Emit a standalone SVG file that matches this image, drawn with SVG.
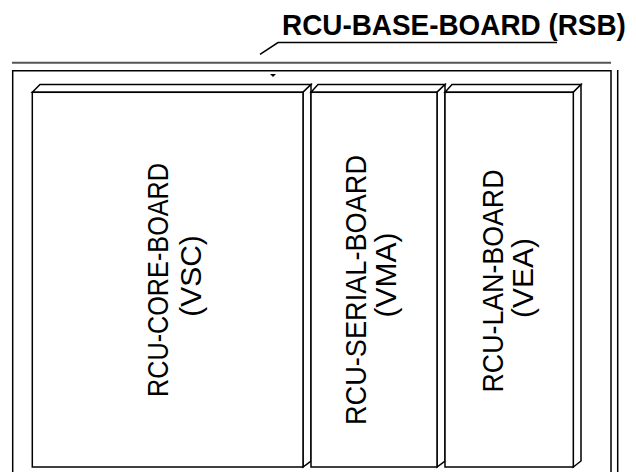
<svg xmlns="http://www.w3.org/2000/svg" width="636" height="472" viewBox="0 0 636 472">
<style>
.ln{fill:none;stroke:#000;stroke-width:1.5}
.bd{fill:#fff;stroke:#000;stroke-width:1.5;stroke-linejoin:miter}
.lbl{font-family:"Liberation Sans",Arial,sans-serif;font-size:30px;fill:#000;text-anchor:middle}
.ttl{font-family:"Liberation Sans",Arial,sans-serif;font-size:30px;font-weight:bold;fill:#000}
</style>
<rect width="636" height="472" fill="#fff"/>
<g id="base-board">
  <text class="ttl" transform="translate(282,35) scale(0.93,1)">RCU-BASE-BOARD (RSB)</text>
  <polyline class="ln" points="260,54.3 278,42.5 557,42.5"/>
  <line x1="12" y1="62.7" x2="611" y2="62.7" stroke="#555" stroke-width="2"/>
  <path class="ln" d="M12.7,472 V70.7 H611 V472"/>
  <line class="ln" x1="617.7" y1="70" x2="617.7" y2="472"/>
  <polygon points="270,74 276,74 273,77" fill="#000"/>
</g>
<g id="core-board">
  <polygon class="bd" points="32.3,92.3 40,84.5 311,84.5 303,92.3"/>
  <polygon class="bd" points="303,92.3 311,84.5 311,461 303,467"/>
  <rect class="bd" x="32.3" y="92.3" width="270.7" height="374.7"/>
  <text class="lbl" transform="translate(168,280) rotate(-90)" textLength="234" lengthAdjust="spacingAndGlyphs">RCU-CORE-BOARD</text>
  <text class="lbl" transform="translate(201,276) rotate(-90)">(VSC)</text>
</g>
<g id="serial-board">
  <polygon class="bd" points="311,92.3 318,84.5 445,84.5 437,92.3"/>
  <polygon class="bd" points="437,92.3 445,84.5 445,461 437,467"/>
  <rect class="bd" x="311" y="92.3" width="126" height="374.7"/>
  <text class="lbl" transform="translate(366,290) rotate(-90)" textLength="270" lengthAdjust="spacingAndGlyphs">RCU-SERIAL-BOARD</text>
  <text class="lbl" transform="translate(396,275) rotate(-90)">(VMA)</text>
</g>
<g id="lan-board">
  <polygon class="bd" points="445,92.3 452,84.5 581,84.5 573.3,92.3"/>
  <polygon class="bd" points="573.3,92.3 581,84.5 581,461 573.3,467"/>
  <rect class="bd" x="445" y="92.3" width="128.3" height="374.7"/>
  <text class="lbl" transform="translate(503,281) rotate(-90)" textLength="223" lengthAdjust="spacingAndGlyphs">RCU-LAN-BOARD</text>
  <text class="lbl" transform="translate(533,278) rotate(-90)">(VEA)</text>
</g>
<g id="connectors"></g>
</svg>
